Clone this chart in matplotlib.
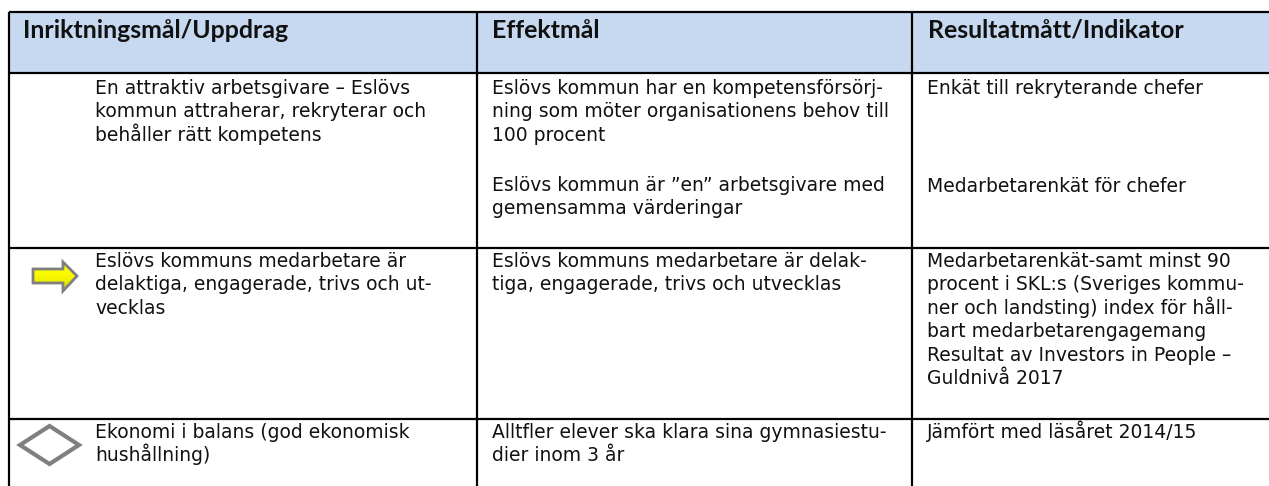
import matplotlib

matplotlib.use("Agg")
import matplotlib.pyplot as plt
import numpy as np
from matplotlib.patches import Polygon, Rectangle

## Table content
headers = ["Inriktningsmål/Uppdrag", "Effektmål", "Resultatmått/Indikator"]

row1Goal = [
    "En attraktiv arbetsgivare – Eslövs",
    "kommun attraherar, rekryterar och",
    "behåller rätt kompetens",
]
row1Effect = [
    "Eslövs kommun har en kompetensförsörj-",
    "ning som möter organisationens behov till",
    "100 procent",
]
row1Effect2 = ["Eslövs kommun är ”en” arbetsgivare med", "gemensamma värderingar"]
row1Result = ["Enkät till rekryterande chefer"]
row1Result2 = ["Medarbetarenkät för chefer"]

row2Goal = [
    "Eslövs kommuns medarbetare är",
    "delaktiga, engagerade, trivs och ut-",
    "vecklas",
]
row2Effect = [
    "Eslövs kommuns medarbetare är delak-",
    "tiga, engagerade, trivs och utvecklas",
]
row2Result = [
    "Medarbetarenkät-samt minst 90",
    "procent i SKL:s (Sveriges kommu-",
    "ner och landsting) index för håll-",
    "bart medarbetarengagemang",
    "Resultat av Investors in People –",
    "Guldnivå 2017",
]

row3Goal = ["Ekonomi i balans (god ekonomisk", "hushållning)"]
row3Effect = [
    "Alltfler elever ska klara sina gymnasiestu-",
    "dier inom 3 år",
]
row3Result = ["Jämfört med läsåret 2014/15"]

## Layout, in pixels of the picture
headerBlue = "#c6d9f0"
lineWidth = 1.6
leftX = 9
col2X = 477
col3X = 912
topY = 12
headerY = 73
row1Y = 248
row2Y = 419
textX = [95, 492, 927]
headerX = [23, 492, 928]
lineStep = 23.4


def block(ax, x, y, lines):
    for i, line in enumerate(lines):
        ax.text(
            x,
            y + i * lineStep,
            line,
            fontsize=13.5,
            color="#111111",
            family="DejaVu Sans",
            va="baseline",
            ha="left",
        )


def drawArrow(ax):
    outline = [
        (33, 269), (63, 269), (63, 262), (77, 276),
        (63, 291), (63, 283), (33, 283),
    ]
    poly = Polygon(outline, closed=True, facecolor="none", edgecolor="#7f7f7f", linewidth=2, zorder=4)
    ax.add_patch(poly)
    # yellow fill fades darker towards the lower edge
    fade = np.linspace(0, 1, 32).reshape(-1, 1)
    colors = np.ones((32, 1, 3))
    colors[:, :, 0] = 1 - 0.25 * fade ** 3
    colors[:, :, 1] = 1 - 0.25 * fade ** 3
    colors[:, :, 2] = 0
    img = ax.imshow(colors, extent=(32, 79, 293, 260), aspect="auto", zorder=3, interpolation="bilinear")
    img.set_clip_path(Polygon(outline, closed=True, transform=ax.transData))


def main():
    fig = plt.figure(figsize=(12.69, 4.86), dpi=100)
    ax = fig.add_axes([0, 0, 1, 1])

    ax.add_patch(Rectangle((leftX, topY), 1269 - leftX, headerY - topY, color=headerBlue, linewidth=0))

    drawArrow(ax)
    ax.add_patch(
        Polygon(
            [(20, 445), (49.5, 426), (79, 445), (49.5, 464)],
            closed=True,
            facecolor="white",
            edgecolor="#808080",
            linewidth=3,
            joinstyle="miter",
            zorder=3,
        )
    )

    ax.set_xlim(0, 1269)
    ax.set_ylim(486, 0)
    ax.axis("off")

    for y in [topY, headerY, row1Y, row2Y]:
        ax.plot([leftX, 1269], [y, y], color="black", linewidth=lineWidth, solid_capstyle="butt", zorder=5)
    for x in [leftX, col2X, col3X]:
        ax.plot([x, x], [topY, 486], color="black", linewidth=lineWidth, solid_capstyle="butt", zorder=5)

    for x, label in zip(headerX, headers):
        ax.text(x, 38, label, fontsize=17.9, fontweight="bold", family="Lato", color="#111111", va="baseline")

    block(ax, textX[0], 94, row1Goal)
    block(ax, textX[1], 94, row1Effect)
    block(ax, textX[1], 191, row1Effect2)
    block(ax, textX[2], 94, row1Result)
    block(ax, textX[2], 192, row1Result2)

    block(ax, textX[0], 267, row2Goal)
    block(ax, textX[1], 267, row2Effect)
    block(ax, textX[2], 267, row2Result)

    block(ax, textX[0], 438, row3Goal)
    block(ax, textX[1], 438, row3Effect)
    block(ax, textX[2], 438, row3Result)

    fig.savefig("out.png", dpi=100)


main()
